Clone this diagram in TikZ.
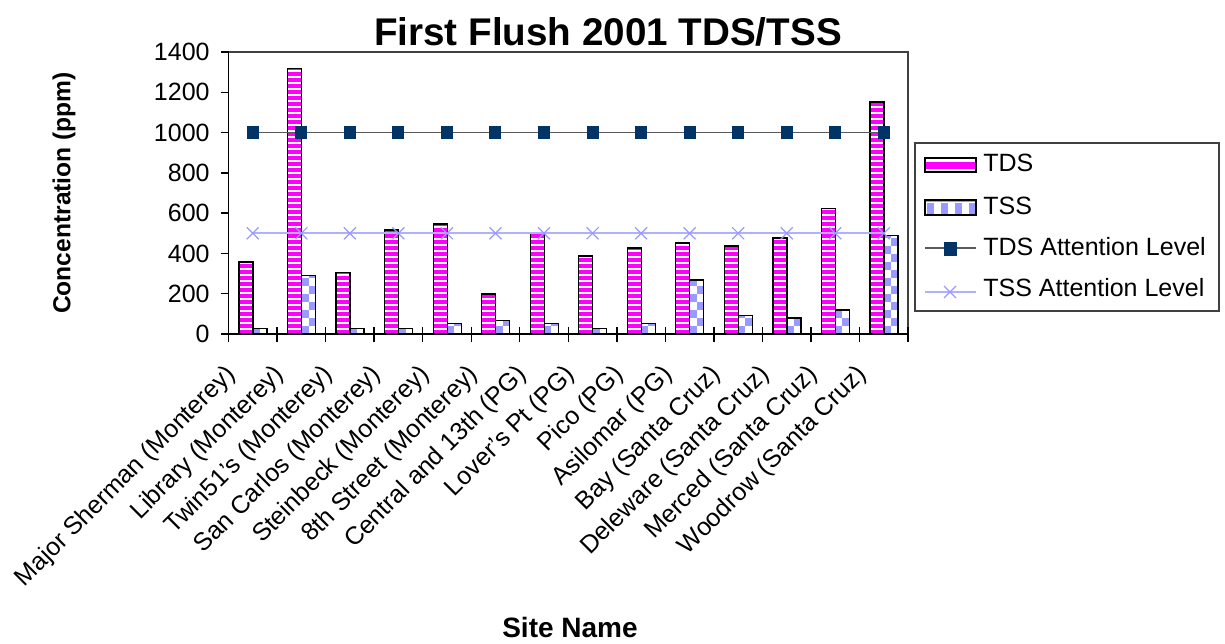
\documentclass[tikz,border=0pt]{standalone}
\usepackage{fontspec}
\setmainfont{Liberation Sans}
\usetikzlibrary{positioning}

\definecolor{tdspink}{RGB}{255,0,255}
\definecolor{tssblue}{RGB}{153,153,255}
\definecolor{tdsnavy}{RGB}{0,51,102}
\definecolor{tssline}{RGB}{176,176,255}
\definecolor{tdsline}{RGB}{90,90,90}

\tikzset{
    chartfont/.style={font=\fontsize{12.5}{15}\selectfont, inner sep=0pt},
    boldfont/.style={font=\fontsize{#1}{#1}\selectfont\bfseries, inner sep=0pt},
    baroutline/.style={draw=black, line width=0.6pt},
    axisline/.style={draw=black, line width=0.7pt},
    frameline/.style={draw=black!75, line width=0.7pt},
}

\begin{document}
\begin{tikzpicture}[x=0.5pt, y=-0.5pt]
    \useasboundingbox (0,0) rectangle (1225,643);

    % bars
    \foreach \i/\tds/\tss/\site in {0/357/28/Major Sherman (Monterey),
                                    1/1320/291/Library (Monterey),
                                    2/306/28/Twin51's (Monterey),
                                    3/516/28/San Carlos (Monterey),
                                    4/546/53/Steinbeck (Monterey),
                                    5/199/66/8th Street (Monterey),
                                    6/503/53/Central and 13th (PG),
                                    7/387/28/Lover's Pt (PG),
                                    8/427/53/Pico (PG),
                                    9/452/268/Asilomar (PG),
                                    10/437/93/Bay (Santa Cruz),
                                    11/477/79/Deleware (Santa Cruz),
                                    12/624/119/Merced (Santa Cruz),
                                    13/1152/490/Woodrow (Santa Cruz)} {
        \pgfmathsetmacro{\xl}{228.5+\i*48.54+10.5}
        \pgfmathsetmacro{\xm}{\xl+14}
        \pgfmathsetmacro{\xr}{\xm+14}
        \pgfmathsetmacro{\xc}{228.5+(\i+0.5)*48.54}
        \pgfmathsetmacro{\ytds}{334-\tds*0.20143}
        \pgfmathsetmacro{\ytss}{334-\tss*0.20143}
        \begin{scope}
            \clip (\xl,\ytds) rectangle (\xm,334);
            \fill[white] (\xl,\ytds) rectangle (\xm,334);
            \foreach \k in {0,...,45}
                \fill[tdspink] (\xl,334-\k*6-0.5) rectangle (\xm,334-\k*6-4.5);
        \end{scope}
        \draw[baroutline] (\xl,\ytds) rectangle (\xm,334);
        \begin{scope}
            \clip (\xm,\ytss) rectangle (\xr,334);
            \fill[white] (\xm,\ytss) rectangle (\xr,334);
            \foreach \r in {0,2,...,14}
                \fill[tssblue] (\xm,334-\r*8) rectangle (\xm+7,334-\r*8-8);
            \foreach \r in {1,3,...,13}
                \fill[tssblue] (\xm+7,334-\r*8) rectangle (\xr,334-\r*8-8);
        \end{scope}
        \draw[baroutline] (\xm,\ytss) rectangle (\xr,334);
        \node[chartfont, rotate=45, anchor=east] (site-\i) at (\xc-21,371) {\site};
    }

    % attention levels
    \draw[tssline, line width=1pt] (252.8,233.3) -- (883.8,233.3);
    \draw[tdsline, line width=0.7pt] (252.8,132.6) -- (883.8,132.6);
    \foreach \i in {0,...,13} {
        \pgfmathsetmacro{\xc}{228.5+(\i+0.5)*48.54}
        \draw[tssblue, line width=0.6pt] (\xc-6,227.3) -- (\xc+6,239.3)
                                         (\xc-6,239.3) -- (\xc+6,227.3);
        \fill[tdsnavy] (\xc-6,126) rectangle (\xc+6,139.2);
    }

    % axes
    \draw[frameline] (228.5,52) -- (908,52) -- (908,334);
    \draw[axisline] (228.5,52) -- (228.5,334) -- (908,334);
    \foreach \v in {0,200,...,1400} {
        \draw[axisline] (221,334-\v*0.20143) -- (228.5,334-\v*0.20143);
        \node[chartfont, anchor=east] (ylab-\v) at (210,334-\v*0.20143) {\v};
    }
    \foreach \k in {0,...,14}
        \draw[axisline] (228.5+\k*48.54,327) -- (228.5+\k*48.54,342);

    % titles
    \node[boldfont=19.3] (title) at (608,32) {First Flush 2001 TDS/TSS};
    \node[boldfont=12.3, rotate=90] (ytitle) at (64,193) {Concentration (ppm)};
    \node[boldfont=14] (xtitle) at (570,627) {Site Name};

    % legend
    \draw[frameline] (915,143) rectangle (1219,311);
    \begin{scope}
        \clip (925,158) rectangle (976,172);
        \fill[white] (925,158) rectangle (976,172);
        \fill[tdspink] (925,162) rectangle (976,169);
    \end{scope}
    \draw[baroutline] (925,158) rectangle (976,172);
    \begin{scope}
        \clip (925,200) rectangle (976,215);
        \fill[white] (925,200) rectangle (976,215);
        \foreach \c in {0,2,...,6}
            \fill[tssblue] (925+\c*7+2,203) rectangle (925+\c*7+9,215);
        \fill[tssblue] (925,200) rectangle (976,202);
    \end{scope}
    \draw[baroutline] (925,200) rectangle (976,215);
    \draw[tdsline, line width=0.7pt] (925,248) -- (976,248);
    \fill[tdsnavy] (944,242) rectangle (957,256);
    \draw[tssline, line width=0.6pt] (925,292) -- (976,292);
    \draw[tssblue, line width=0.6pt] (944,286) -- (956,298) (944,298) -- (956,286);
    \node[chartfont, anchor=west] (leg-tds) at (983,163) {TDS};
    \node[chartfont, anchor=west] (leg-tss) at (983,206) {TSS};
    \node[chartfont, anchor=west] (leg-tdslevel) at (983,247) {TDS Attention Level};
    \node[chartfont, anchor=west] (leg-tsslevel) at (983,288) {TSS Attention Level};
\end{tikzpicture}
\end{document}
